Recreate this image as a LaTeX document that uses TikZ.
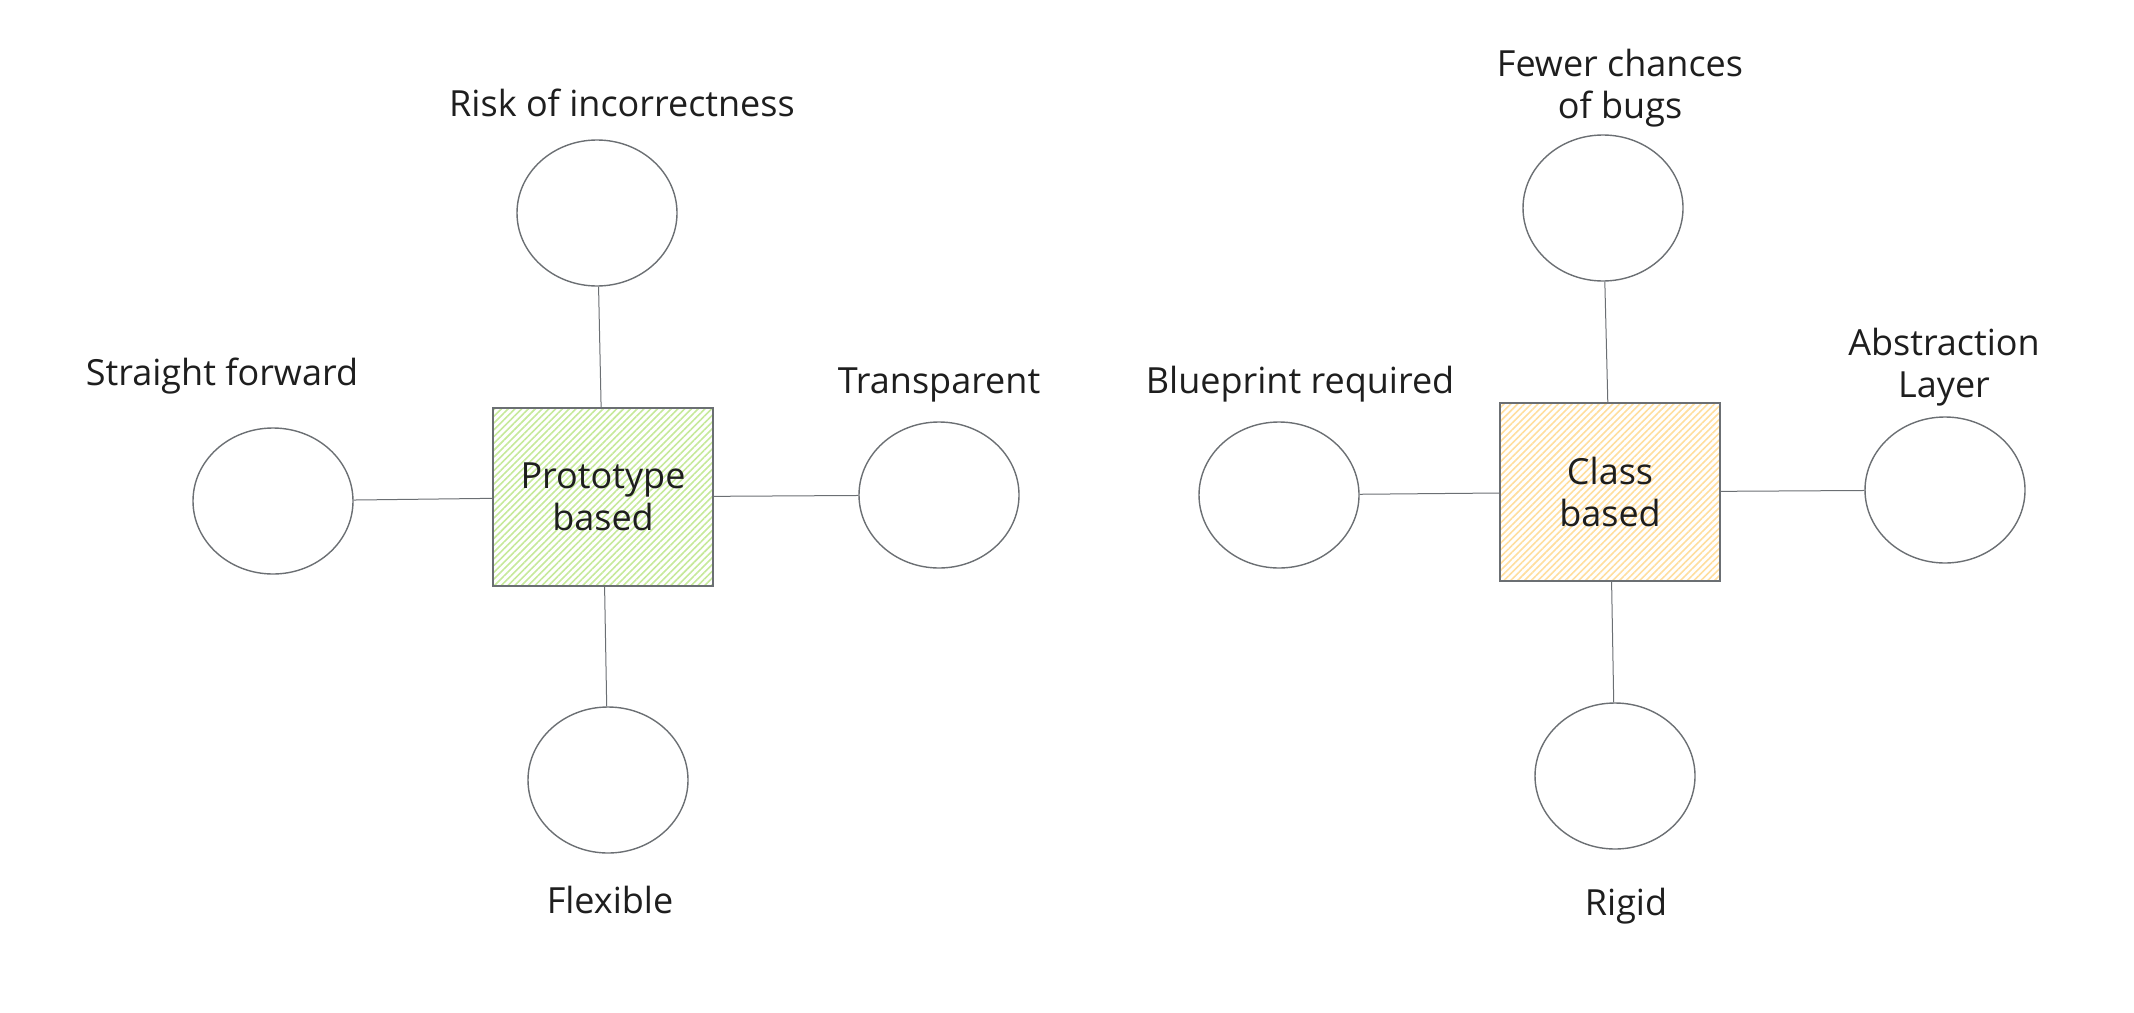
\documentclass[tikz,border=0pt]{standalone}
\usepackage{fontspec}
\setmainfont{Open Sans}
\usetikzlibrary{shapes.geometric,patterns.meta}
\definecolor{ink}{HTML}{1E1E1E}
\definecolor{edge}{HTML}{6B6F73}
\definecolor{limefill}{HTML}{C6E99A}
\definecolor{sandfill}{HTML}{FFDE9E}

\begin{document}
\begin{tikzpicture}[x=0.5pt,y=-0.5pt,
  font=\fontsize{18}{21}\selectfont,
  blob/.style={ellipse,draw=edge,line width=0.7pt,minimum width=80pt,minimum height=73pt,inner sep=0pt},
  core/.style={rectangle,draw=edge,line width=0.7pt,minimum width=110pt,minimum height=89pt,
    align=center,text=ink,pattern={Lines[angle=45,distance=2.4pt,line width=0.8pt]}},
  tag/.style={align=center,text=ink},
  link/.style={draw=edge,line width=0.5pt}]
  \useasboundingbox (0,0) rectangle (2134,1012);

  % prototype side
  \node[core,pattern color=limefill] (proto) at (603,497) {Prototype\\based};
  \node[blob] (ptop) at (597,213) {};
  \node[blob] (pleft) at (273,501) {};
  \node[blob] (pright) at (939,495) {};
  \node[blob] (pbot) at (608,780) {};

  \node[tag] at (622,103) {Risk of incorrectness};
  \node[tag] at (222,376) {Straight forward};
  \node[tag] at (939,385) {Transparent};
  \node[tag] at (610,900) {Flexible};

  \draw[link] (ptop) -- (proto);
  \draw[link] (pleft) -- (proto);
  \draw[link] (pright) -- (proto);
  \draw[link] (pbot) -- (proto);

  % class side
  \node[core,pattern color=sandfill] (cls) at (1610,492) {Class\\based};
  \node[blob] (ctop) at (1603,208) {};
  \node[blob] (cleft) at (1279,495) {};
  \node[blob] (cright) at (1945,490) {};
  \node[blob] (cbot) at (1615,776) {};

  \node[tag] at (1620,88) {Fewer chances\\of bugs};
  \node[tag] at (1300,384) {Blueprint required};
  \node[tag] at (1944,367) {Abstraction\\Layer};
  \node[tag] at (1626,906) {Rigid};

  \draw[link] (ctop) -- (cls);
  \draw[link] (cleft) -- (cls);
  \draw[link] (cright) -- (cls);
  \draw[link] (cbot) -- (cls);
\end{tikzpicture}
\end{document}
